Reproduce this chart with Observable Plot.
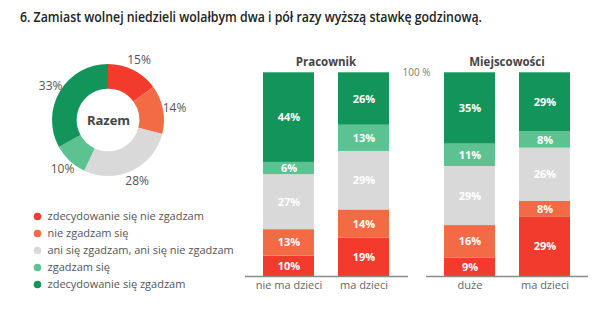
<!DOCTYPE html>
<html><head><meta charset="utf-8">
<script src="https://cdn.jsdelivr.net/npm/d3@7"></script>
<script src="https://cdn.jsdelivr.net/npm/@observablehq/plot@0.6"></script>
<style>
body{margin:0;background:#fff;font-family:"Open Sans",sans-serif;}
#root{position:relative;width:600px;height:324px;overflow:hidden;background:#fff;}
.abs{position:absolute;}
#title{left:20px;top:7px;font-size:14px;font-weight:600;color:#222;white-space:nowrap;transform-origin:left top;}
.ptitle{font-size:11.5px;font-weight:700;color:#444;transform:translateX(-50%);white-space:nowrap;}
svg{font-family:"Open Sans",sans-serif;}
</style></head><body>
<div id="root">
  <div id="title" class="abs"></div>
  <div id="donut" class="abs" style="left:0;top:40px"></div>
  <div id="legend" class="abs" style="left:0;top:205px"></div>
  <div id="p1title" class="abs ptitle" style="left:326px;top:54px"></div>
  <div id="p2title" class="abs ptitle" style="left:507px;top:54px"></div>
  <div id="panel1" class="abs" style="left:240px;top:40px"></div>
  <div id="panel2" class="abs" style="left:400px;top:40px"></div>
</div>
<script>
const titleText = "6. Zamiast wolnej niedzieli wolałbym dwa i pół razy wyższą stawkę godzinową.";
const responses = ["zdecydowanie się nie zgadzam","nie zgadzam się","ani się zgadzam, ani się nie zgadzam","zgadzam się","zdecydowanie się zgadzam"];
const colors = ["#f33b2d","#f36b45","#d9d9d9","#5cc292","#12945b"];
const donutLabel = "Razem";
const totalValues = [15,14,28,10,33];
const panel1Title = "Pracownik";
const panel1Categories = ["nie ma dzieci","ma dzieci"];
const panel1NieMaDzieci = [10,13,27,6,44];
const panel1MaDzieci = [19,14,29,13,26];
const panel2Title = "Miejscowości";
const panel2Categories = ["duże","ma dzieci"];
const panel2Duze = [9,16,29,11,35];
const panel2MaDzieci = [29,8,26,8,29];
const topTickLabel = "100 %";

document.getElementById("title").textContent = titleText;
document.getElementById("p1title").textContent = panel1Title;
document.getElementById("p2title").textContent = panel2Title;

const colorScale = Plot.scale({color:{domain:responses, range:colors}});

// Donut
const totalRows = responses.map((r,i)=>({resp:r, value:totalValues[i]}));
const arcs = d3.pie().sort(null).value(d=>d.value)(totalRows);
const labelRows = arcs.map(a=>{
  const m=(a.startAngle+a.endAngle)/2;
  return {x:1.2*Math.sin(m), y:1.2*Math.cos(m), text:a.data.value+"%"};
});
function donutMark(index, scales){
  const cx=scales.x(0), cy=scales.y(0);
  const R=Math.abs(scales.x(1)-scales.x(0));
  const arc=d3.arc().innerRadius(R*0.56).outerRadius(R);
  const g=d3.create("svg:g").attr("transform",`translate(${cx},${cy})`);
  g.selectAll("path").data(arcs).join("path").attr("d",arc).attr("fill",d=>colorScale.apply(d.data.resp));
  return g.node();
}
const donut = Plot.plot({
  width:220, height:160, margin:0,
  x:{domain:[-1,1], range:[52,164], axis:null},
  y:{domain:[-1,1], range:[136,24], axis:null},
  marks:[
    donutMark,
    Plot.text(labelRows,{x:"x",y:"y",text:"text",fontSize:12,fill:"#555"}),
    Plot.text([donutLabel],{x:0,y:0,text:d=>d,fontSize:13,fontWeight:700,fill:"#444"})
  ]
});
document.getElementById("donut").appendChild(donut);

// Legend
const legend = Plot.plot({
  width:240, height:90, margin:0, marginLeft:37,
  y:{type:"point", domain:responses, range:[10.7,79.3], padding:0, axis:null},
  color:{domain:responses, range:colors},
  marks:[
    Plot.dot(responses,{y:d=>d, fill:d=>d, r:3.8, frameAnchor:"left"}),
    Plot.text(responses,{y:d=>d, text:d=>d, frameAnchor:"left", dx:10, textAnchor:"start", fontSize:11, fill:"#555"})
  ]
});
document.getElementById("legend").appendChild(legend);

// Panels
function rowsFor(cats, seriesList){
  const rows=[];
  cats.forEach((c,ci)=>responses.forEach((r,ri)=>rows.push({cat:c, resp:r, value:seriesList[ci][ri]})));
  return rows;
}
function panel(cats, seriesList, opts){
  const rows=rowsFor(cats, seriesList);
  const st = {x:"cat", y:"value", z:"resp", order:responses, offset:"normalize"};
  const marks=[
    Plot.barY(rows, Plot.stackY({...st, fill:"resp"})),
    Plot.text(rows, Plot.stackY({...st, text:d=>d.value+"%", fill:"white", fontWeight:700, fontSize:11})),
    Plot.ruleY([0],{stroke:"#8a8a8a", strokeWidth:1.5}),
    Plot.axisX({tickSize:0, tickPadding:5, fontSize:11, fill:"#666"})
  ];
  if (opts.topTick) marks.push(Plot.axisY({ticks:[1], tickFormat:()=>topTickLabel, tickSize:0, tickPadding:0, dx:4, fontSize:10, fill:"#777"}));
  return Plot.plot({
    width:opts.width, height:270, marginTop:0, marginBottom:34, marginLeft:opts.ml, marginRight:opts.mr,
    x:{domain:cats, range:opts.xr, padding:opts.pad, label:null},
    y:opts.topTick ? {domain:[0,1], range:[236,32.3], label:null} : {domain:[0,1], range:[236,32.3], label:null, axis:null},
    color:{domain:responses, range:colors},
    marks
  });
}
document.getElementById("panel1").appendChild(panel(panel1Categories,[panel1NieMaDzieci,panel1MaDzieci],{width:175, ml:5, mr:7, xr:[-1,173.3], pad:0.324}));
document.getElementById("panel2").appendChild(panel(panel2Categories,[panel2Duze,panel2MaDzieci],{width:200, ml:26, mr:12, xr:[19.3,194.7], pad:0.317, topTick:true}));

// fit title width to reference
const t=document.getElementById("title");
const w=t.getBoundingClientRect().width;
t.style.transform=`scaleX(${462/w})`;
</script>
</body></html>
